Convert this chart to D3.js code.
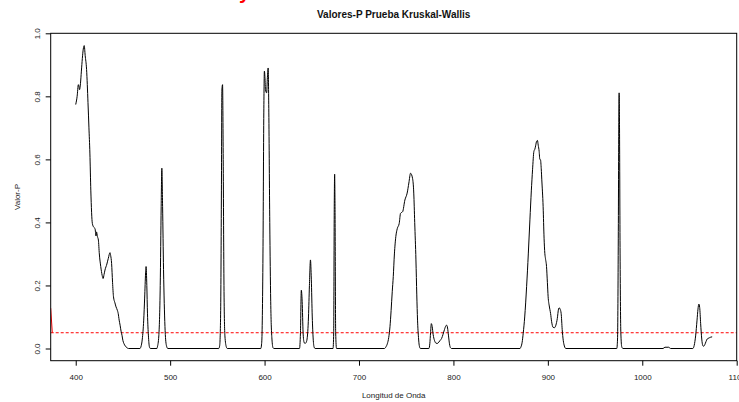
<!DOCTYPE html>
<html>
<head>
<meta charset="utf-8">
<script src="https://cdn.jsdelivr.net/npm/d3@7"></script>
<style>
  html, body { margin: 0; padding: 0; background: #fff; }
  svg { display: block; }
  text { font-family: "Liberation Sans", Arial, Helvetica, sans-serif; }
</style>
</head>
<body>
<svg id="chart" width="739" height="402"></svg>
<script>
// ---- data ----
const wavelength = [
  400,401.5,402.8,403.5,404,405,406,407,408,409,410,411.5,413,414,415,416,417.6,419,420.4,421.5,422,423,424,425,426.5,428,429,430,431,433,434.5,436.3,437,438,439,440,441.5,442.7,444,445,446,447,448,449,450,451,452.5,454,456,
  468,469,470.5,472,473,474,474.5,475.3,476,477,478,479,
  486,486.5,488,489.5,490.5,491.2,492,493,494.5,496,497.5,
  551.5,552.5,553.5,554.3,554.8,555.5,556.2,557,558,559.5,560.5,
  596,597,598.3,599.2,599.8,600.4,601,602.2,603,603.8,604.5,605.5,606.5,607.8,609,610,
  637,638,638.9,639.8,640.8,641.8,642.8,643.8,645,646.5,647.5,648.6,649.5,650.5,651.5,652.5,653.5,
  672.5,673.2,673.8,674.2,674.6,675.3,676.2,
  727,728.5,730,731.5,732.8,734,735.2,736.3,737.5,739,740.5,742.6,744,746.2,748.6,751,752.8,754.6,756.7,758,759,760.3,761.2,762,763,763.8,765,
  774,775,775.8,776.6,777.5,778.5,780,781.5,782.9,784.5,786,787.5,789,790.5,792,792.8,793.8,794.8,795.8,797,798,
  870.5,871.5,872.8,873.9,875.5,877.5,879.3,881,882.5,883.8,885.2,886.3,887.2,888,889,889.8,890.8,891.5,892.2,893,893.6,895,896,896.8,897.5,898.6,899.5,900.3,901.5,902.9,904,905.6,907,908.5,910,911.3,912,913,914.1,915.2,916.3,917.5,919,
  973,973.8,974.6,975.2,975.5,975.9,976.5,977.3,978.3,979.5,
  1022,1024,1028,1030,
  1053.5,1055,1056.5,1058,1059,1059.9,1060.8,1061.8,1063,1064,1065.1,1066.2,1067.5,1068.7,1069.7,1071,1072.5,1074
];
const pValue = [
  0.774,0.80,0.837,0.83,0.821,0.84,0.88,0.92,0.95,0.961,0.93,0.885,0.78,0.70,0.62,0.50,0.397,0.385,0.381,0.357,0.37,0.355,0.344,0.30,0.26,0.232,0.222,0.235,0.249,0.268,0.286,0.304,0.295,0.27,0.21,0.164,0.145,0.132,0.122,0.111,0.09,0.074,0.055,0.042,0.025,0.016,0.008,0.003,0,
  0,0.005,0.03,0.09,0.16,0.24,0.26,0.2,0.11,0.04,0.006,0,
  0,0.005,0.04,0.2,0.45,0.572,0.45,0.25,0.07,0.01,0,
  0,0.01,0.12,0.5,0.82,0.837,0.6,0.2,0.04,0.005,0,
  0,0.02,0.3,0.75,0.88,0.86,0.82,0.811,0.86,0.89,0.75,0.4,0.15,0.03,0.002,0,
  0,0.05,0.185,0.15,0.05,0.02,0.016,0.018,0.03,0.1,0.2,0.281,0.22,0.1,0.03,0.004,0,
  0,0.05,0.45,0.553,0.45,0.05,0,
  0,0.005,0.015,0.035,0.069,0.12,0.18,0.228,0.3,0.355,0.38,0.397,0.429,0.434,0.471,0.493,0.525,0.556,0.54,0.493,0.4,0.281,0.17,0.09,0.035,0.01,0,
  0,0.015,0.05,0.079,0.07,0.045,0.025,0.017,0.016,0.02,0.026,0.032,0.045,0.06,0.072,0.074,0.065,0.04,0.015,0.002,0,
  0,0.005,0.02,0.048,0.1,0.196,0.3,0.408,0.5,0.567,0.625,0.633,0.645,0.657,0.66,0.645,0.625,0.6,0.599,0.57,0.535,0.45,0.35,0.302,0.285,0.26,0.21,0.164,0.135,0.111,0.085,0.067,0.066,0.074,0.095,0.125,0.129,0.125,0.111,0.06,0.026,0.008,0,
  0,0.03,0.35,0.75,0.811,0.7,0.3,0.05,0.005,0,
  0,0.004,0.004,0,
  0,0.01,0.04,0.09,0.125,0.141,0.13,0.08,0.03,0.01,0.007,0.012,0.022,0.03,0.032,0.034,0.036,0.037
];
const threshold = 0.05;
const redSegmentX = [373.5, 375.2];
const redSegmentY = [0.128, 0.05];
const xTicks = [400, 500, 600, 700, 800, 900, 1000, 1100];
const yTicks = [0.0, 0.2, 0.4, 0.6, 0.8, 1.0];
const titleText = "Valores-P Prueba Kruskal-Wallis";
const xLabel = "Longitud de Onda";
const yLabel = "Valor-P";

// ---- layout ----
const svg = d3.select("#chart");
const L = 50.7, R = 736.7, T = 33.3, B = 360.7;
const x = d3.scaleLinear().domain([373.5, 1100]).range([L, R]);
const y = d3.scaleLinear().domain([-0.0387, 1]).range([B, T]);

// red fragment at very top (cut-off text)
svg.append("text").attr("x", 239).attr("y", -1.5)
  .attr("font-size", 20).attr("font-weight", "bold").attr("fill", "#ff0000").text("y");

// title
svg.append("text").attr("x", (L + R) / 2).attr("y", 18)
  .attr("text-anchor", "middle").attr("font-size", 10).attr("font-weight", "bold")
  .attr("fill", "#111").text(titleText);

// clip
svg.append("clipPath").attr("id", "clip").append("rect")
  .attr("x", L).attr("y", T).attr("width", R - L).attr("height", B - T);

const plot = svg.append("g").attr("clip-path", "url(#clip)");

// threshold line
plot.append("line")
  .attr("x1", L).attr("x2", R).attr("y1", y(threshold)).attr("y2", y(threshold))
  .attr("stroke", "#ff0000").attr("stroke-width", 1).attr("stroke-dasharray", "3,2");

// red solid fragment
plot.append("path")
  .attr("d", d3.line()(redSegmentX.map((v, i) => [x(v), y(redSegmentY[i])])))
  .attr("stroke", "#ff0000").attr("stroke-width", 1).attr("fill", "none");

// curve
const pts = wavelength.map((w, i) => [w, pValue[i]]);
plot.append("path")
  .attr("d", d3.line().x(d => x(d[0])).y(d => y(d[1])).curve(d3.curveMonotoneX)(pts))
  .attr("stroke", "#000").attr("stroke-width", 1).attr("fill", "none");

// frame
svg.append("rect").attr("x", L).attr("y", T).attr("width", R - L).attr("height", B - T)
  .attr("fill", "none").attr("stroke", "#000").attr("stroke-width", 1);

// axes
const xAxis = svg.append("g").attr("transform", `translate(0,${B})`)
  .call(d3.axisBottom(x).tickValues(xTicks).tickSize(5).tickPadding(6).tickFormat(d3.format("d")));
const yAxis = svg.append("g").attr("transform", `translate(${L},0)`)
  .call(d3.axisLeft(y).tickValues(yTicks).tickSize(5).tickFormat(d3.format(".1f")));
[xAxis, yAxis].forEach(g => {
  g.select(".domain").remove();
  g.selectAll("line").attr("stroke", "#000");
  g.selectAll("text").attr("font-family", "Liberation Sans, Arial, sans-serif")
    .attr("font-size", 8).attr("fill", "#222");
});
xAxis.selectAll("text").attr("y", 0).attr("dy", null)
  .attr("transform", "translate(0,19)");
yAxis.selectAll("text")
  .attr("x", null).attr("dy", null)
  .attr("text-anchor", "middle")
  .attr("transform", "translate(-13.7,0) rotate(-90) translate(0,3)");

// axis labels
svg.append("text").attr("x", (L + R) / 2).attr("y", 398)
  .attr("text-anchor", "middle").attr("font-size", 8).attr("fill", "#222").text(xLabel);
svg.append("text").attr("transform", `translate(20,${(T + B) / 2}) rotate(-90)`)
  .attr("text-anchor", "middle").attr("font-size", 8).attr("fill", "#222").text(yLabel);
</script>
</body>
</html>
